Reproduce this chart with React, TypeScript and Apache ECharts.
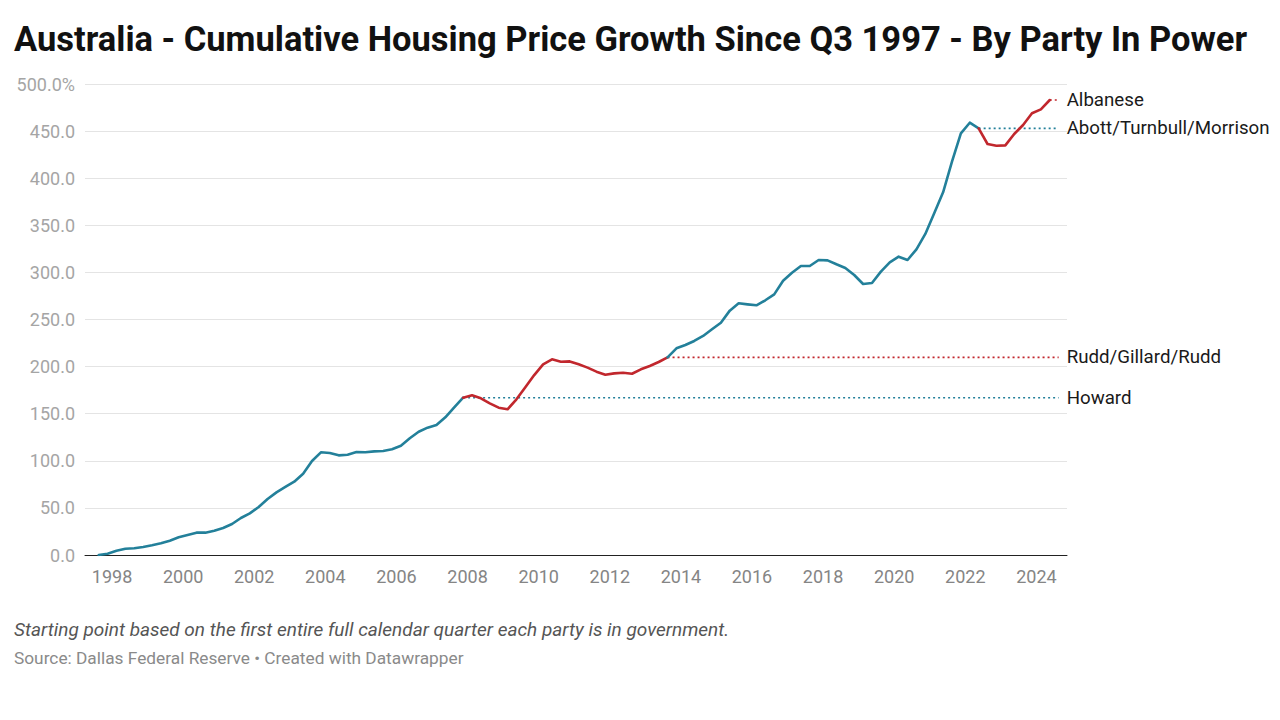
import React, { useEffect, useRef } from "react";
import * as echarts from "echarts";

const START_YEAR = 1997;
const START_QUARTER = 3;

// Cumulative growth (%) since Q3 1997, quarterly, Q3 1997 .. Q2 2024
const growth: number[] = [
  0, 1.4, 4.6, 6.7, 7.1, 8.5, 10.3, 12.4, 15.2, 18.8,
  21.2, 23.7, 23.7, 25.8, 28.7, 32.9, 39.3, 44.2, 51.0, 59.4,
  66.5, 72.2, 77.8, 86.3, 99.8, 109.0, 108.3, 105.8, 106.5, 109.3,
  109.0, 110.0, 110.4, 112.2, 116.0, 123.9, 130.9, 135.2, 138.0, 146.2,
  156.8, 167.0, 169.5, 166.3, 161.0, 156.4, 154.7, 165.3, 178.0, 191.0,
  202.4, 207.7, 205.2, 205.5, 202.4, 198.9, 194.6, 191.4, 192.8, 193.5,
  192.4, 197.1, 200.7, 204.9, 209.8, 219.4, 222.9, 227.2, 232.5, 239.6,
  246.6, 259.4, 267.2, 266.1, 265.1, 270.4, 276.7, 291.2, 299.7, 306.8,
  306.8, 313.2, 312.8, 308.6, 304.7, 297.2, 287.7, 288.7, 300.8, 310.7,
  316.7, 313.2, 324.5, 340.8, 362.7, 385.0, 417.5, 447.6, 458.9, 452.9,
  436.3, 434.5, 434.8, 446.9, 456.5, 468.9, 473.1, 483.0,
];

const parties = ["Howard", "Rudd/Gillard/Rudd", "Abott/Turnbull/Morrison", "Albanese"];
const partyFrom = ["1997Q3", "2007Q4", "2013Q3", "2022Q2"];
const partyTo = ["2007Q4", "2013Q3", "2022Q2", "2024Q2"];
const partyColors = ["#23809a", "#c1272d", "#23809a", "#c1272d"];

const yearTicks = [1998, 2000, 2002, 2004, 2006, 2008, 2010, 2012, 2014, 2016, 2018, 2020, 2022, 2024];
const yMin = 0;
const yMax = 500;
const yStep = 50;

const TITLE = "Australia - Cumulative Housing Price Growth Since Q3 1997 - By Party In Power";
const NOTE = "Starting point based on the first entire full calendar quarter each party is in government.";
const SOURCE = "Source: Dallas Federal Reserve \u2022 Created with Datawrapper";

const quarterLabels = growth.map((_, i) => {
  const q = START_QUARTER - 1 + i;
  return `${START_YEAR + Math.floor(q / 4)}Q${(q % 4) + 1}`;
});
const quarterX = (label: string) => {
  const y = parseInt(label.slice(0, 4), 10);
  const q = parseInt(label.slice(5), 10);
  return y + (q - 1) / 4 + 0.125;
};
const idx = (label: string) => quarterLabels.indexOf(label);

export default function App() {
  const ref = useRef<HTMLDivElement>(null);
  useEffect(() => {
    if (!ref.current) return;
    const chart = echarts.init(ref.current, undefined, { renderer: "svg" });
    const lastX = quarterX(quarterLabels[quarterLabels.length - 1]);
    const refEnd = lastX + 0.25;

    const dotted = parties.map((name, p) => {
      const v = growth[idx(partyTo[p])];
      return {
        type: "line",
        name: name + " level",
        data: [
          [quarterX(partyTo[p]), v],
          [refEnd, v],
        ],
        symbol: "none",
        silent: true,
        z: 1,
        lineStyle: { color: partyColors[p], width: 1.6, type: [2, 3] },
        endLabel: {
          show: true,
          formatter: name,
          color: "#1a1a1a",
          fontSize: 18.7,
          fontFamily: "Roboto",
          distance: 8,
        },
      };
    });

    const solid = parties.map((name, p) => {
      const a = idx(partyFrom[p]);
      const b = idx(partyTo[p]);
      const data: number[][] = [];
      for (let i = a; i <= b; i++) data.push([quarterX(quarterLabels[i]), growth[i]]);
      return {
        type: "line",
        name,
        data,
        symbol: "none",
        z: 3,
        lineStyle: { color: partyColors[p], width: 2.6, join: "round", cap: "round" },
      };
    });

    chart.setOption({
      animation: false,
      backgroundColor: "#ffffff",
      textStyle: { fontFamily: "Roboto" },
      title: [
        {
          text: TITLE,
          left: 9,
          top: 16,
          textStyle: { fontFamily: "Roboto", fontSize: 34.5, fontWeight: "bold", color: "#111111" },
        },
        {
          text: NOTE,
          left: 9,
          top: 615,
          textStyle: { fontFamily: "Roboto", fontSize: 19, fontStyle: "italic", fontWeight: "normal", color: "#555555" },
        },
        {
          text: SOURCE,
          left: 9,
          top: 644,
          textStyle: { fontFamily: "Roboto", fontSize: 17.3, fontWeight: "normal", color: "#8a8a8a" },
        },
      ],
      grid: { left: 85, right: 213, top: 84, bottom: 165, containLabel: false },
      xAxis: {
        type: "value",
        min: 1997.24,
        max: 2024.86,
        axisLine: { show: true, lineStyle: { color: "#222222", width: 1 } },
        axisTick: { show: false },
        splitLine: { show: false },
        axisLabel: {
          customValues: yearTicks,
          formatter: (v: number) => String(Math.round(v)),
          color: "#858585",
          fontSize: 18,
          fontFamily: "Roboto",
          margin: 12,
        },
      },
      yAxis: {
        type: "value",
        min: yMin,
        max: yMax,
        interval: yStep,
        axisLine: { show: false },
        axisTick: { show: false },
        splitLine: { lineStyle: { color: "#e4e4e4", width: 1 } },
        axisLabel: {
          formatter: (v: number) => (v === yMax ? v.toFixed(1) + "%" : v.toFixed(1)),
          color: "#a5a5a5",
          fontSize: 18,
          fontFamily: "Roboto",
          margin: 10,
        },
      },
      series: [...dotted, ...solid],
    });
    return () => chart.dispose();
  }, []);
  return (
    <div
      ref={ref}
      style={{ position: "fixed", left: 0, top: 0, width: 1280, height: 720, background: "#fff" }}
    />
  );
}
